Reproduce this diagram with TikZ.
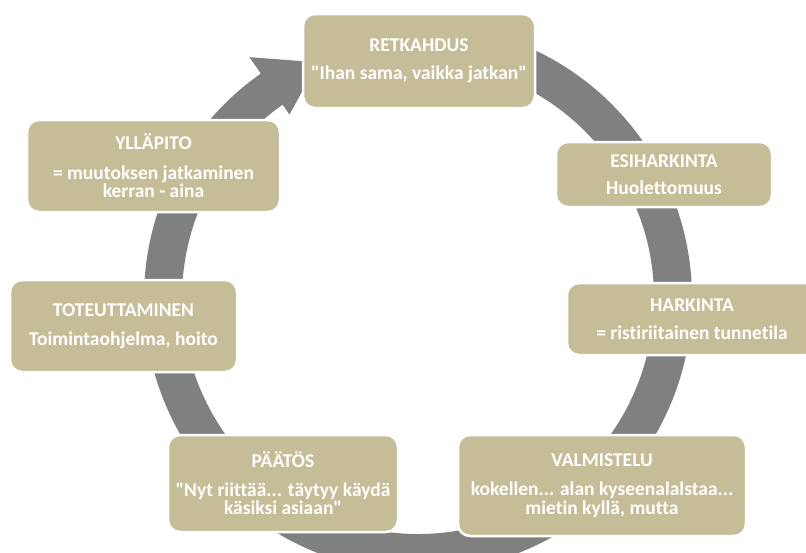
\documentclass[tikz,border=0pt]{standalone}
\usepackage{fontspec}
\setmainfont{Carlito}[Ligatures={TeXOff,NoCommon}]
\usetikzlibrary{calc}
\definecolor{boxtan}{HTML}{C4BD97}
\definecolor{ringgray}{HTML}{808080}
\begin{document}
\begin{tikzpicture}[x=1pt,y=1pt,
  stage/.style={fill=boxtan, draw=white, line width=2.5pt, rounded corners=12pt,
    text=white, font=\bfseries\fontsize{19.5}{18.5}\selectfont, align=center, inner sep=0pt},
  ring/.style={fill=ringgray}
]
\useasboundingbox (0,0) rectangle (806,-552);
\fill[white] (0,0) rectangle (806,-552);
\clip (0,0) rectangle (806,-552);
\coordinate (C) at (418,-298);
% circular arrow
\path[ring] ($(C)+(100:274)$) arc[start angle=100,end angle=-235,radius=274]
  -- ($(C)+(-235:294)$) -- ($(C)+(-247:256)$) -- ($(C)+(-235:224)$)
  -- ($(C)+(-235:236)$) arc[start angle=-235,end angle=100,radius=236] -- cycle;
% stages
\node[stage, minimum width=232pt, minimum height=94pt] (retk) at (419,-61)
  {RETKAHDUS\\[9pt]"Ihan sama, vaikka jatkan"};
\node[stage, minimum width=216pt, minimum height=65pt] (esih) at (664,-174.5)
  {ESIHARKINTA\\[9pt]Huolettomuus};
\node[stage, minimum width=250pt, minimum height=72pt] (hark) at (692,-319)
  {HARKINTA\\[10pt]= ristiriitainen tunnetila};
\node[stage, minimum width=288pt, minimum height=101pt] (valm) at (602,-485.5)
  {VALMISTELU\\[11pt]kokellen... alan kyseenalalstaa...\\mietin kyllä, mutta};
\node[stage, minimum width=230pt, minimum height=97pt] (paat) at (283,-483.5)
  {PÄÄTÖS\\[10pt]"Nyt riittää... täytyy käydä\\käsiksi asiaan"};
\node[stage, minimum width=227pt, minimum height=92pt] (tote) at (123.5,-326)
  {TOTEUTTAMINEN\\[11pt]Toimintaohjelma, hoito};
\node[stage, minimum width=253pt, minimum height=92pt] (yllp) at (153.5,-166)
  {YLLÄPITO\\[11pt]= muutoksen jatkaminen\\kerran - aina};
\end{tikzpicture}
\end{document}
